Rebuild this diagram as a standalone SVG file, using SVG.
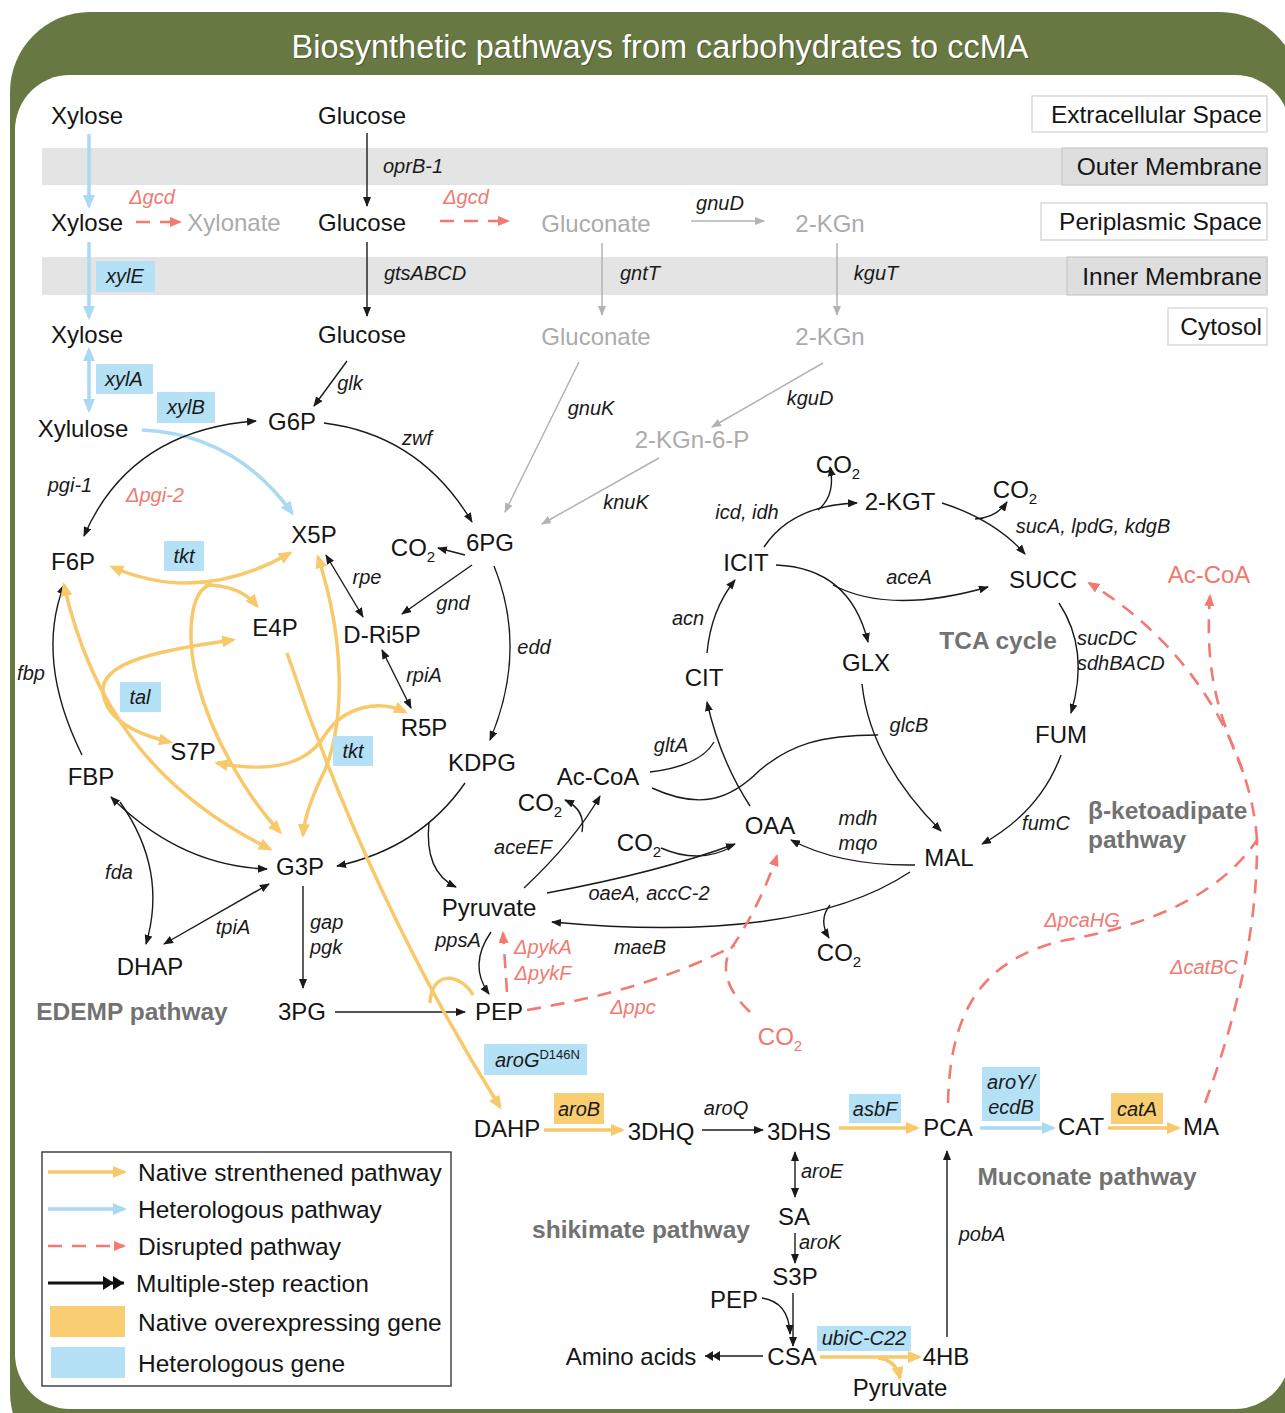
<svg xmlns="http://www.w3.org/2000/svg" width="1285" height="1413" viewBox="0 0 1285 1413">
<defs>
<style>
text{font-family:"Liberation Sans",Arial,sans-serif}
.n{font-size:24px;fill:#151515;text-anchor:middle}
.ng{font-size:24px;fill:#ababab;text-anchor:middle}
.nr{font-size:24px;fill:#f07870;text-anchor:middle}
.g{font-size:20px;font-style:italic;fill:#1a1a1a;text-anchor:middle}
.gs{font-size:20px;font-style:italic;fill:#1a1a1a}
.gr{font-size:20px;font-style:italic;fill:#ef7a72;text-anchor:middle}
.pw{font-size:24.5px;font-weight:bold;fill:#727272}
.cl{font-size:24.5px;fill:#151515;text-anchor:end}
.lg{font-size:24.5px;fill:#151515}
.k{fill:none;stroke:#1a1a1a;stroke-width:1.4}
.gy{fill:none;stroke:#b3b3b3;stroke-width:1.5}
.y{fill:none;stroke:#f7c96b;stroke-width:3.5}
.b{fill:none;stroke:#a9daf1;stroke-width:3.5}
.r{fill:none;stroke:#f27a70;stroke-width:2.6;stroke-dasharray:14 10}
.bb{fill:#b5e1f6}
.ob{fill:#f9cd72}
.sub{font-size:15px}
</style>
<marker id="mk" viewBox="0 0 10 8" refX="9" refY="4" markerWidth="10" markerHeight="8" markerUnits="userSpaceOnUse" orient="auto-start-reverse"><path d="M0,0L10,4L0,8z" fill="#1a1a1a"/></marker>
<marker id="mg" viewBox="0 0 10 8" refX="9" refY="4" markerWidth="10" markerHeight="8" markerUnits="userSpaceOnUse" orient="auto-start-reverse"><path d="M0,0L10,4L0,8z" fill="#b3b3b3"/></marker>
<marker id="my" viewBox="0 0 14 12" refX="11" refY="6" markerWidth="14" markerHeight="12" markerUnits="userSpaceOnUse" orient="auto-start-reverse"><path d="M0,0L14,6L0,12z" fill="#f7c96b"/></marker>
<marker id="mb" viewBox="0 0 14 12" refX="11" refY="6" markerWidth="14" markerHeight="12" markerUnits="userSpaceOnUse" orient="auto-start-reverse"><path d="M0,0L14,6L0,12z" fill="#a9daf1"/></marker>
<marker id="mr" viewBox="0 0 12 10" refX="10" refY="5" markerWidth="12" markerHeight="10" markerUnits="userSpaceOnUse" orient="auto-start-reverse"><path d="M0,0L12,5L0,10z" fill="#f27a70"/></marker>
<marker id="md" viewBox="0 0 16 10" refX="15" refY="5" markerWidth="16" markerHeight="10" markerUnits="userSpaceOnUse" orient="auto-start-reverse"><path d="M0,0L8,5L0,10zM7,0L15,5L7,10z" fill="#1a1a1a"/></marker>
<marker id="mdl" viewBox="0 0 22 14" refX="21" refY="7" markerWidth="22" markerHeight="14" markerUnits="userSpaceOnUse" orient="auto"><path d="M0,0L11,7L0,14zM10,0L21,7L10,14z" fill="#111"/></marker>
</defs>

<g id="frame">
<rect x="10" y="12" width="1290" height="1460" rx="80" fill="#687842"/>
<rect x="15" y="75" width="1275" height="1334" rx="55" fill="#fff"/>
<text x="661" y="59" font-size="32.5" fill="#3a4422" text-anchor="middle" opacity="0.6">Biosynthetic pathways from carbohydrates to ccMA</text>
<text x="660" y="58" font-size="32.5" fill="#fff" text-anchor="middle">Biosynthetic pathways from carbohydrates to ccMA</text>
</g>

<g id="compartments">
<rect x="42" y="148" width="1226" height="37" fill="#e4e4e4"/>
<rect x="42" y="257" width="1226" height="38" fill="#e4e4e4"/>
<rect x="1032" y="96" width="235" height="36" fill="#fff" stroke="#cfcfcf" stroke-width="1.2"/>
<text class="cl" x="1262" y="123">Extracellular Space</text>
<rect x="1062" y="148" width="205" height="37" fill="#dedede" stroke="#c8c8c8" stroke-width="1.2"/>
<text class="cl" x="1262" y="175">Outer Membrane</text>
<rect x="1041" y="203" width="226" height="37" fill="#fff" stroke="#cfcfcf" stroke-width="1.2"/>
<text class="cl" x="1262" y="230">Periplasmic Space</text>
<rect x="1067" y="257" width="200" height="38" fill="#dedede" stroke="#c8c8c8" stroke-width="1.2"/>
<text class="cl" x="1262" y="285">Inner Membrane</text>
<rect x="1168" y="308" width="99" height="37" fill="#fff" stroke="#cfcfcf" stroke-width="1.2"/>
<text class="cl" x="1262" y="335">Cytosol</text>
</g>

<g id="connectors">
<!-- blue heterologous -->
<path class="b" d="M89,134 L89,206" marker-end="url(#mb)"/>
<path class="b" d="M89,242 L89,317" marker-end="url(#mb)"/>
<path class="b" d="M89,350 L89,410" marker-start="url(#mb)" marker-end="url(#mb)"/>
<path class="b" d="M142,430 Q235,434 292,513" marker-end="url(#mb)"/>
<path class="b" d="M980,1128 L1053,1128" marker-end="url(#mb)"/>

<!-- black -->
<path class="k" d="M367,133 L367,206" marker-end="url(#mk)"/>
<path class="k" d="M367,242 L367,316" marker-end="url(#mk)"/>
<path class="k" d="M347,361 L314,406" marker-end="url(#mk)"/>
<path class="k" d="M324,423 Q420,435 472,522" marker-end="url(#mk)"/>
<path class="k" d="M256,421 Q130,430 84,536" marker-start="url(#mk)" marker-end="url(#mk)"/>
<path class="k" d="M465,555 L438,548" marker-end="url(#mk)"/>
<path class="k" d="M472,565 L402,614" marker-end="url(#mk)"/>
<path class="k" d="M326,555 L363,617" marker-start="url(#mk)" marker-end="url(#mk)"/>
<path class="k" d="M382,650 L411,708" marker-start="url(#mk)" marker-end="url(#mk)"/>
<path class="k" d="M494,566 Q528,650 490,740" marker-end="url(#mk)"/>
<path class="k" d="M465,783 Q420,848 337,866" marker-end="url(#mk)"/>
<path class="k" d="M429,822 Q424,872 456,887" marker-end="url(#mk)"/>
<path class="k" d="M82,755 Q35,660 64,585" marker-end="url(#mk)"/>
<path class="k" d="M111,797 Q180,866 267,869" marker-start="url(#mk)" marker-end="url(#mk)"/>
<path class="k" d="M120,802 Q168,870 146,944" marker-end="url(#mk)"/>
<path class="k" d="M164,944 L269,884" marker-start="url(#mk)" marker-end="url(#mk)"/>
<path class="k" d="M303,886 L303,988" marker-end="url(#mk)"/>
<path class="k" d="M335,1012 L465,1012" marker-end="url(#mk)"/>
<path class="k" d="M491,932 Q468,965 489,994" marker-end="url(#mk)"/>
<path class="k" d="M524,888 Q575,840 600,796" marker-end="url(#mk)"/>
<path class="k" d="M582,832 Q586,810 565,800" marker-end="url(#mk)"/>
<path class="k" d="M547,893 Q660,872 735,844" marker-end="url(#mk)"/>
<path class="k" d="M661,848 Q700,865 733,846"/>
<path class="k" d="M915,865 Q840,866 791,840" marker-end="url(#mk)"/>
<path class="k" d="M910,872 Q800,945 552,922" marker-end="url(#mk)"/>
<path class="k" d="M830,905 Q818,920 829,938" marker-end="url(#mk)"/>
<path class="k" d="M750,806 Q720,760 707,702" marker-end="url(#mk)"/>
<path class="k" d="M650,772 Q700,766 714,742"/>
<path class="k" d="M652,788 C700,810 730,800 760,770 C790,745 820,735 878,735"/>
<path class="k" d="M862,684 Q870,760 941,831" marker-end="url(#mk)"/>
<path class="k" d="M707,653 Q711,610 735,580" marker-end="url(#mk)"/>
<path class="k" d="M764,547 Q792,505 857,503" marker-end="url(#mk)"/>
<path class="k" d="M818,510 Q836,495 830,467" marker-end="url(#mk)"/>
<path class="k" d="M942,503 Q995,520 1025,554" marker-end="url(#mk)"/>
<path class="k" d="M975,519 Q996,518 1007,502" marker-end="url(#mk)"/>
<path class="k" d="M776,565 Q850,568 868,642" marker-end="url(#mk)"/>
<path class="k" d="M833,585 Q890,615 988,587" marker-end="url(#mk)"/>
<path class="k" d="M1059,603 Q1090,650 1071,713" marker-end="url(#mk)"/>
<path class="k" d="M1061,755 Q1040,812 982,844" marker-end="url(#mk)"/>
<path class="k" d="M702,1130 L763,1130" marker-end="url(#mk)"/>
<path class="k" d="M795,1152 L795,1197" marker-start="url(#mk)" marker-end="url(#mk)"/>
<path class="k" d="M795,1233 L795,1263" marker-end="url(#mk)"/>
<path class="k" d="M793,1293 L793,1346" marker-end="url(#mk)"/>
<path class="k" d="M762,1298 Q789,1302 790,1334" marker-end="url(#mk)"/>
<path class="k" d="M763,1356 L705,1356" marker-end="url(#md)"/>
<path class="k" d="M947,1337 L947,1151" marker-end="url(#mk)"/>

<!-- gray -->
<path class="gy" d="M691,221 L764,221" marker-end="url(#mg)"/>
<path class="gy" d="M602,243 L602,315" marker-end="url(#mg)"/>
<path class="gy" d="M837,243 L837,315" marker-end="url(#mg)"/>
<path class="gy" d="M579,362 L505,512" marker-end="url(#mg)"/>
<path class="gy" d="M823,363 L712,427" marker-end="url(#mg)"/>
<path class="gy" d="M659,458 L542,524" marker-end="url(#mg)"/>

<!-- yellow native strengthened -->
<path class="y" d="M287,653 Q370,900 500,1107" marker-end="url(#my)"/>
<path class="y" d="M473,995 C462,975 432,968 430,1003"/>
<path class="y" d="M112,567 Q200,605 290,553" marker-start="url(#my)" marker-end="url(#my)"/>
<path class="y" d="M205,585 Q240,585 257,606" marker-end="url(#my)"/>
<path class="y" d="M212,584 C188,590 187,640 197,680 C212,740 250,800 280,832" marker-end="url(#my)"/>
<path class="y" d="M233,640 C160,650 100,662 103,692 C106,722 140,735 170,742" marker-start="url(#my)" marker-end="url(#my)"/>
<path class="y" d="M64,585 C90,700 150,790 270,849" marker-start="url(#my)" marker-end="url(#my)"/>
<path class="y" d="M318,557 C345,640 345,720 325,770 Q305,810 303,835" marker-start="url(#my)" marker-end="url(#my)"/>
<path class="y" d="M217,763 C280,775 310,760 325,735 C345,705 380,700 405,712" marker-start="url(#my)" marker-end="url(#my)"/>
<path class="y" d="M544,1130 L622,1130" marker-end="url(#my)"/>
<path class="y" d="M839,1128 L917,1128" marker-end="url(#my)"/>
<path class="y" d="M1108,1128 L1178,1128" marker-end="url(#my)"/>
<path class="y" d="M820,1357 L919,1357" marker-end="url(#my)"/>
<path class="y" d="M878,1358 Q896,1360 900,1378" marker-end="url(#my)"/>

<!-- red disrupted -->
<path class="r" d="M136,222 L180,222" marker-end="url(#mr)"/>
<path class="r" d="M440,221 L508,221" marker-end="url(#mr)"/>
<path class="r" d="M507,992 L503,933" stroke-dasharray="16 17" marker-end="url(#mr)"/>
<path class="r" d="M527,1010 Q650,990 735,945"/>
<path class="r" d="M750,1012 Q716,980 730,950 Q758,910 777,856" marker-end="url(#mr)"/>
<path class="r" d="M948,1103 C950,1020 975,960 1066,940 C1150,925 1220,895 1257,840"/>
<path class="r" d="M1205,1103 Q1258,960 1257,840"/>
<path class="r" d="M1257,840 C1252,760 1200,650 1089,583" marker-end="url(#mr)"/>
<path class="r" d="M1243,772 C1222,720 1204,680 1210,596" marker-end="url(#mr)"/>
</g>

<g id="nodes">
<g id="n-xylose1"><text class="n" x="87" y="124">Xylose</text></g>
<g id="n-glucose1"><text class="n" x="362" y="124">Glucose</text></g>
<g id="n-xylose2"><text class="n" x="87" y="231">Xylose</text></g>
<g id="n-xylonate"><text class="ng" x="234" y="231">Xylonate</text></g>
<g id="n-glucose2"><text class="n" x="362" y="231">Glucose</text></g>
<g id="n-gluconate2"><text class="ng" x="596" y="232">Gluconate</text></g>
<g id="n-2kgn2"><text class="ng" x="830" y="232">2-KGn</text></g>
<g id="n-xylose3"><text class="n" x="87" y="343">Xylose</text></g>
<g id="n-glucose3"><text class="n" x="362" y="343">Glucose</text></g>
<g id="n-gluconate3"><text class="ng" x="596" y="345">Gluconate</text></g>
<g id="n-2kgn3"><text class="ng" x="830" y="345">2-KGn</text></g>
<g id="n-xylulose"><text class="n" x="83" y="437">Xylulose</text></g>
<g id="n-g6p"><text class="n" x="292" y="430">G6P</text></g>
<g id="n-2kgn6p"><text class="ng" x="692" y="448">2-KGn-6-P</text></g>
<g id="n-x5p"><text class="n" x="314" y="543">X5P</text></g>
<g id="n-co2a"><text class="n" x="413" y="556">CO<tspan class="sub" dy="6">2</tspan></text></g>
<g id="n-6pg"><text class="n" x="490" y="551">6PG</text></g>
<g id="n-f6p"><text class="n" x="73" y="570">F6P</text></g>
<g id="n-e4p"><text class="n" x="275" y="636">E4P</text></g>
<g id="n-dri5p"><text class="n" x="382" y="643">D-Ri5P</text></g>
<g id="n-r5p"><text class="n" x="424" y="736">R5P</text></g>
<g id="n-s7p"><text class="n" x="193" y="760">S7P</text></g>
<g id="n-kdpg"><text class="n" x="482" y="771">KDPG</text></g>
<g id="n-fbp"><text class="n" x="91" y="785">FBP</text></g>
<g id="n-g3p"><text class="n" x="300" y="875">G3P</text></g>
<g id="n-dhap"><text class="n" x="150" y="975">DHAP</text></g>
<g id="n-3pg"><text class="n" x="302" y="1020">3PG</text></g>
<g id="n-pyruvate"><text class="n" x="489" y="916">Pyruvate</text></g>
<g id="n-pep"><text class="n" x="499" y="1020">PEP</text></g>
<g id="n-accoa"><text class="n" x="598" y="785">Ac-CoA</text></g>
<g id="n-co2b"><text class="n" x="540" y="811">CO<tspan class="sub" dy="6">2</tspan></text></g>
<g id="n-co2c"><text class="n" x="639" y="851">CO<tspan class="sub" dy="6">2</tspan></text></g>
<g id="n-oaa"><text class="n" x="770" y="834">OAA</text></g>
<g id="n-mal"><text class="n" x="949" y="866">MAL</text></g>
<g id="n-co2d"><text class="n" x="839" y="961">CO<tspan class="sub" dy="6">2</tspan></text></g>
<g id="n-cit"><text class="n" x="704" y="686">CIT</text></g>
<g id="n-icit"><text class="n" x="746" y="571">ICIT</text></g>
<g id="n-co2e"><text class="n" x="838" y="473">CO<tspan class="sub" dy="6">2</tspan></text></g>
<g id="n-2kgt"><text class="n" x="900" y="510">2-KGT</text></g>
<g id="n-co2f"><text class="n" x="1015" y="498">CO<tspan class="sub" dy="6">2</tspan></text></g>
<g id="n-succ"><text class="n" x="1043" y="588">SUCC</text></g>
<g id="n-accoa-red"><text class="nr" x="1209" y="583">Ac-CoA</text></g>
<g id="n-glx"><text class="n" x="866" y="671">GLX</text></g>
<g id="n-fum"><text class="n" x="1061" y="743">FUM</text></g>
<g id="n-co2-red"><text class="nr" x="780" y="1045">CO<tspan class="sub" dy="6">2</tspan></text></g>
<g id="n-dahp"><text class="n" x="507" y="1137">DAHP</text></g>
<g id="n-3dhq"><text class="n" x="661" y="1140">3DHQ</text></g>
<g id="n-3dhs"><text class="n" x="799" y="1140">3DHS</text></g>
<g id="n-pca"><text class="n" x="948" y="1136">PCA</text></g>
<g id="n-cat"><text class="n" x="1081" y="1135">CAT</text></g>
<g id="n-ma"><text class="n" x="1201" y="1135">MA</text></g>
<g id="n-sa"><text class="n" x="794" y="1225">SA</text></g>
<g id="n-s3p"><text class="n" x="795" y="1285">S3P</text></g>
<g id="n-pep2"><text class="n" x="734" y="1308">PEP</text></g>
<g id="n-csa"><text class="n" x="792" y="1365">CSA</text></g>
<g id="n-aminoacids"><text class="n" x="631" y="1365">Amino acids</text></g>
<g id="n-4hb"><text class="n" x="946" y="1365">4HB</text></g>
<g id="n-pyruvate2"><text class="n" x="900" y="1396">Pyruvate</text></g>
</g>

<g id="pathway-labels">
<text class="pw" x="132" y="1020" text-anchor="middle">EDEMP pathway</text>
<text class="pw" x="998" y="649" text-anchor="middle">TCA cycle</text>
<text class="pw" x="1088" y="819">β-ketoadipate</text>
<text class="pw" x="1088" y="848">pathway</text>
<text class="pw" x="1087" y="1185" text-anchor="middle">Muconate pathway</text>
<text class="pw" x="641" y="1238" text-anchor="middle">shikimate pathway</text>
</g>

<g id="gene-labels">
<text class="g" x="413" y="173">oprB-1</text>
<text class="g" x="425" y="280">gtsABCD</text>
<text class="g" x="640" y="280">gntT</text>
<text class="g" x="876" y="280">kguT</text>
<text class="g" x="720" y="210">gnuD</text>
<text class="gr" x="152" y="204">Δgcd</text>
<text class="gr" x="466" y="204">Δgcd</text>
<text class="g" x="350" y="390">glk</text>
<text class="g" x="591" y="415">gnuK</text>
<text class="g" x="810" y="405">kguD</text>
<text class="g" x="417" y="445">zwf</text>
<text class="g" x="626" y="509">knuK</text>
<text class="g" x="70" y="492">pgi-1</text>
<text class="gr" x="155" y="502">Δpgi-2</text>
<text class="g" x="367" y="584">rpe</text>
<text class="g" x="453" y="610">gnd</text>
<text class="g" x="534" y="654">edd</text>
<text class="g" x="424" y="682">rpiA</text>
<text class="g" x="31" y="680">fbp</text>
<text class="g" x="119" y="879">fda</text>
<text class="g" x="233" y="934">tpiA</text>
<text class="gs" x="310" y="929">gap</text>
<text class="gs" x="310" y="954">pgk</text>
<text class="g" x="523" y="854">aceEF</text>
<text class="g" x="649" y="900">oaeA, accC-2</text>
<text class="g" x="640" y="954">maeB</text>
<text class="g" x="458" y="947">ppsA</text>
<text class="gr" x="543" y="954">ΔpykA</text>
<text class="gr" x="543" y="980">ΔpykF</text>
<text class="gr" x="633" y="1014">Δppc</text>
<text class="gr" x="1082" y="927">ΔpcaHG</text>
<text class="gr" x="1204" y="974">ΔcatBC</text>
<text class="g" x="747" y="519">icd, idh</text>
<text class="g" x="909" y="584">aceA</text>
<text class="g" x="688" y="625">acn</text>
<text class="g" x="1093" y="533">sucA, lpdG, kdgB</text>
<text class="gs" x="1077" y="645">sucDC</text>
<text class="gs" x="1077" y="670">sdhBACD</text>
<text class="g" x="671" y="752">gltA</text>
<text class="g" x="909" y="732">glcB</text>
<text class="g" x="858" y="825">mdh</text>
<text class="g" x="858" y="850">mqo</text>
<text class="g" x="1046" y="830">fumC</text>
<text class="g" x="726" y="1115">aroQ</text>
<text class="g" x="822" y="1178">aroE</text>
<text class="g" x="820" y="1249">aroK</text>
<text class="g" x="982" y="1241">pobA</text>
</g>

<g id="gene-boxes">
<g id="gb-xylE"><rect class="bb" x="96" y="261" width="59" height="31"/><text class="g" x="125" y="283">xylE</text></g>
<g id="gb-xylA"><rect class="bb" x="96" y="364" width="57" height="30"/><text class="g" x="124" y="386">xylA</text></g>
<g id="gb-xylB"><rect class="bb" x="157" y="392" width="58" height="31"/><text class="g" x="186" y="414">xylB</text></g>
<g id="gb-tkt1"><rect class="bb" x="164" y="541" width="40" height="30"/><text class="g" x="184" y="563">tkt</text></g>
<g id="gb-tal"><rect class="bb" x="120" y="682" width="41" height="30"/><text class="g" x="140" y="704">tal</text></g>
<g id="gb-tkt2"><rect class="bb" x="333" y="736" width="40" height="30"/><text class="g" x="353" y="758">tkt</text></g>
<g id="gb-aroG"><rect class="bb" x="484" y="1044" width="103" height="31"/><text class="gs" x="495" y="1067">aroG<tspan font-style="normal" font-size="13px" dy="-8">D146N</tspan></text></g>
<g id="gb-aroB"><rect class="ob" x="554" y="1093" width="50" height="31"/><text class="g" x="579" y="1116">aroB</text></g>
<g id="gb-asbF"><rect class="bb" x="849" y="1094" width="52" height="29"/><text class="g" x="875" y="1116">asbF</text></g>
<g id="gb-aroY"><rect class="bb" x="982" y="1067" width="58" height="54"/><text class="g" x="1011" y="1089">aroY/</text><text class="g" x="1011" y="1114">ecdB</text></g>
<g id="gb-catA"><rect class="ob" x="1111" y="1093" width="52" height="31"/><text class="g" x="1137" y="1116">catA</text></g>
<g id="gb-ubiC"><rect class="bb" x="817" y="1326" width="94" height="25"/><text class="g" x="864" y="1345">ubiC-C22</text></g>
</g>

<g id="legend">
<rect x="42" y="1152" width="409" height="234" fill="#fff" stroke="#444" stroke-width="1.5"/>
<path class="y" d="M48,1172 L124,1172" marker-end="url(#my)"/>
<text class="lg" x="138" y="1181">Native strenthened pathway</text>
<path class="b" d="M48,1209 L124,1209" marker-end="url(#mb)"/>
<text class="lg" x="138" y="1218">Heterologous pathway</text>
<path class="r" d="M48,1246 L124,1246" stroke-dasharray="14 17" marker-end="url(#mr)"/>
<text class="lg" x="138" y="1255">Disrupted pathway</text>
<path d="M48,1283 L124,1283" fill="none" stroke="#111" stroke-width="3" marker-end="url(#mdl)"/>
<text class="lg" x="136" y="1292">Multiple-step reaction</text>
<rect class="ob" x="50" y="1306" width="75" height="31"/>
<text class="lg" x="138" y="1331">Native overexpressing gene</text>
<rect class="bb" x="51" y="1347" width="74" height="31"/>
<text class="lg" x="138" y="1372">Heterologous gene</text>
</g>
</svg>
